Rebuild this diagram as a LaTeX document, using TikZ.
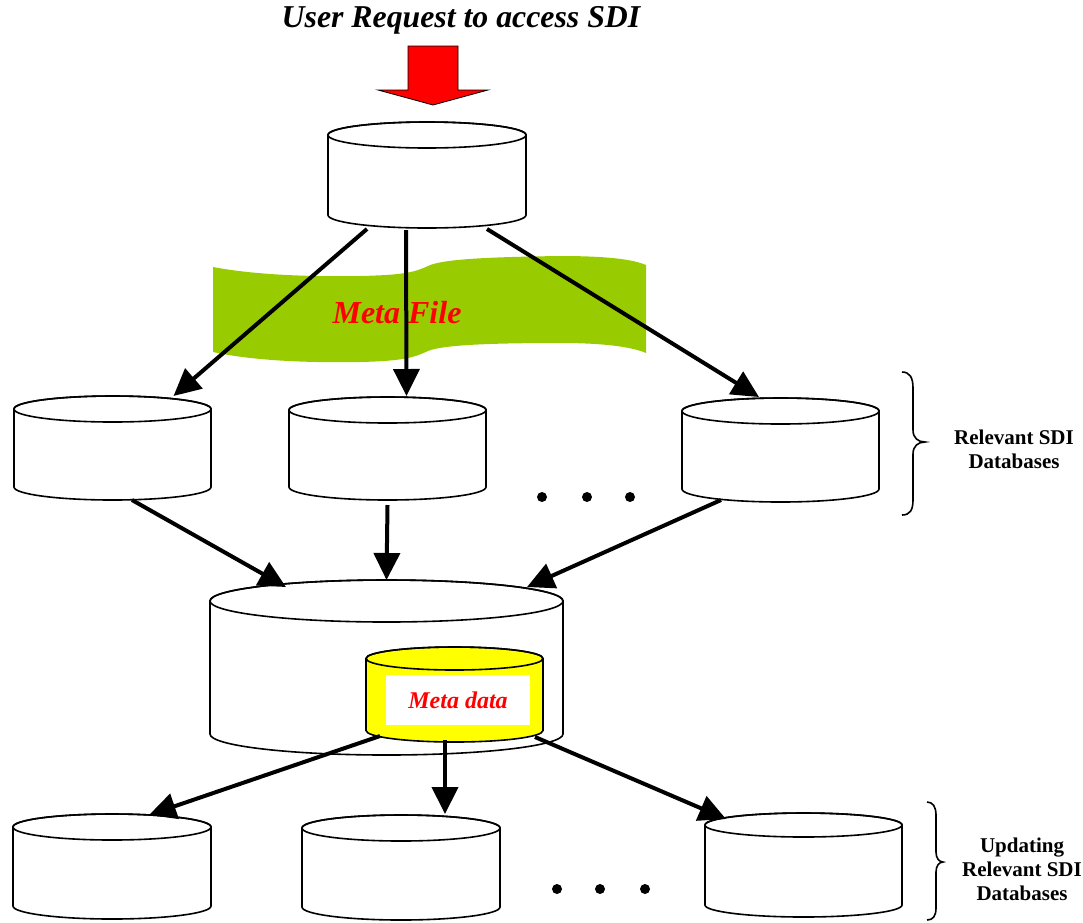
\documentclass[tikz,border=0pt]{standalone}
\usepackage{fontspec}
\setmainfont{Liberation Serif}
\usetikzlibrary{arrows.meta,calc}
\definecolor{bannergreen}{RGB}{153,204,0}
\definecolor{metared}{RGB}{255,0,0}
\definecolor{metayellow}{RGB}{255,255,0}
% name, cx, y of top ellipse centre, y of bottom ellipse centre, rx, ry, fill
\newcommand\dbcyl[7]{%
  \path[draw, line width=1.6pt, fill=#7] (#2-#5,#3) -- (#2-#5,#4)
    arc[start angle=180, end angle=360, x radius=#5pt, y radius=#6pt]
    -- (#2+#5,#3)
    arc[start angle=0, end angle=180, x radius=#5pt, y radius=#6pt] -- cycle;
  \draw[line width=1.6pt] (#2,#3) ellipse[x radius=#5pt, y radius=#6pt];
  \node[inner sep=0pt, outer sep=0pt, minimum width={2*#5pt},
        minimum height={(#4-#3+2*#6)*1pt}] (#1) at (#2,{(#3+#4)/2}) {};
}
\tikzset{
  conn/.style={line width=4pt, -{Triangle[length=27pt,width=26pt]}},
  bracelabel/.style={font=\fontsize{21}{24}\selectfont\bfseries, align=center},
  bracepath/.style={line width=1.6pt},
  dot/.style={circle, fill=black, inner sep=0pt, minimum width=9pt, minimum height=10pt}
}
\begin{document}
\begin{tikzpicture}[x=1pt,y=-1pt]
\useasboundingbox (0,0) rectangle (1083,922);

% title
\node[font=\fontsize{31.8}{36}\selectfont\bfseries\itshape] (title) at (461,20) {User Request to access SDI};

% red request arrow
\draw[fill=red, line width=0.8pt] (408,46) -- (458,46) -- (458,90) -- (488,90) -- (433,105) -- (378,90) -- (408,90) -- cycle;

% Meta File banner
\fill[bannergreen] (213,267) .. controls (250,274) and (300,277) .. (360,276)
  .. controls (405,275) and (415,272) .. (428,266)
  .. controls (442,259) and (490,257) .. (560,256)
  .. controls (605,256) and (632,259) .. (646,265)
  -- (646,353)
  .. controls (632,347) and (605,343) .. (560,343)
  .. controls (490,343) and (442,345) .. (428,351)
  .. controls (415,357) and (405,361) .. (360,362)
  .. controls (300,363) and (250,360) .. (213,352) -- cycle;
\node[font=\fontsize{32}{36}\selectfont\bfseries\itshape, text=metared] (metafile) at (397,313) {Meta File};

% cylinders
\dbcyl{top}{427}{135}{215}{99}{13}{white}
\dbcyl{m1}{112.5}{409}{487}{98.5}{13}{white}
\dbcyl{m2}{387.5}{410}{487}{98.5}{13}{white}
\dbcyl{m3}{780.5}{411}{489}{98.5}{13}{white}
\dbcyl{big}{386.5}{601}{734}{176.5}{21}{white}
\dbcyl{meta}{454.5}{658.5}{730.5}{88.5}{11.5}{metayellow}
\dbcyl{b1}{112}{827}{906}{99}{13}{white}
\dbcyl{b2}{401}{828}{907}{99}{13}{white}
\dbcyl{b3}{803.5}{825}{905}{98.5}{12}{white}

\node[fill=white, minimum width=144pt, minimum height=50pt, inner sep=0pt,
      font=\fontsize{24}{28}\selectfont\bfseries\itshape, text=metared] (metadata) at (458,700) {Meta data};

% connectors: top -> middle row
\draw[conn] ($(top.south)+(-60,1)$) -- ($(m1.north)+(61,0)$);
\draw[conn] ($(top.south)+(-21,2)$) -- ($(m2.north)+(19,-1)$);
\draw[conn] ($(top.south)+(60,1)$) -- ($(m3.north)+(-21.5,-1)$);
% middle row -> big
\draw[conn] ($(m1.south)+(19.5,0)$) -- ($(big.north)+(-100.5,7)$);
\draw[conn] ($(m2.south)+(0,5)$) -- ($(big.north)+(0,0)$);
\draw[conn] ($(m3.south)+(-59.5,-2)$) -- ($(big.north)+(140.5,7)$);
% meta data -> bottom row
\draw[conn] ($(meta.south)+(-74.5,-6)$) -- ($(b1.north)+(37,1)$);
\draw[conn] ($(meta.south)+(-9.5,-2)$) -- ($(b2.north)+(44,-1)$);
\draw[conn] ($(meta.south)+(80.5,-5)$) -- ($(b3.north)+(-77.5,6)$);

% dots
\node[dot] (d1) at (542,497) {};
\node[dot] (d2) at (587,497) {};
\node[dot] (d3) at (630,497) {};
\node[dot] (d4) at (557,889) {};
\node[dot] (d5) at (600,889) {};
\node[dot] (d6) at (645,889) {};

% braces
\draw[bracepath] (902,372) .. controls (910,372) and (913,378) .. (913,388)
  -- (913,430) .. controls (913,438) and (918,442) .. (925,442)
  .. controls (918,442) and (913,446) .. (913,454)
  -- (913,500) .. controls (913,510) and (910,515) .. (902,515);
\node[bracelabel] (lab1) at (1014,449) {Relevant SDI\\Databases};

\draw[bracepath] (927,802) .. controls (933,802) and (936,807) .. (936,815)
  -- (936,852) .. controls (936,858) and (939,862) .. (943,862)
  .. controls (939,862) and (936,866) .. (936,872)
  -- (936,908) .. controls (936,916) and (933,920) .. (927,920);
\node[bracelabel] (lab2) at (1022,869) {Updating\\Relevant SDI\\Databases};
\end{tikzpicture}
\end{document}
